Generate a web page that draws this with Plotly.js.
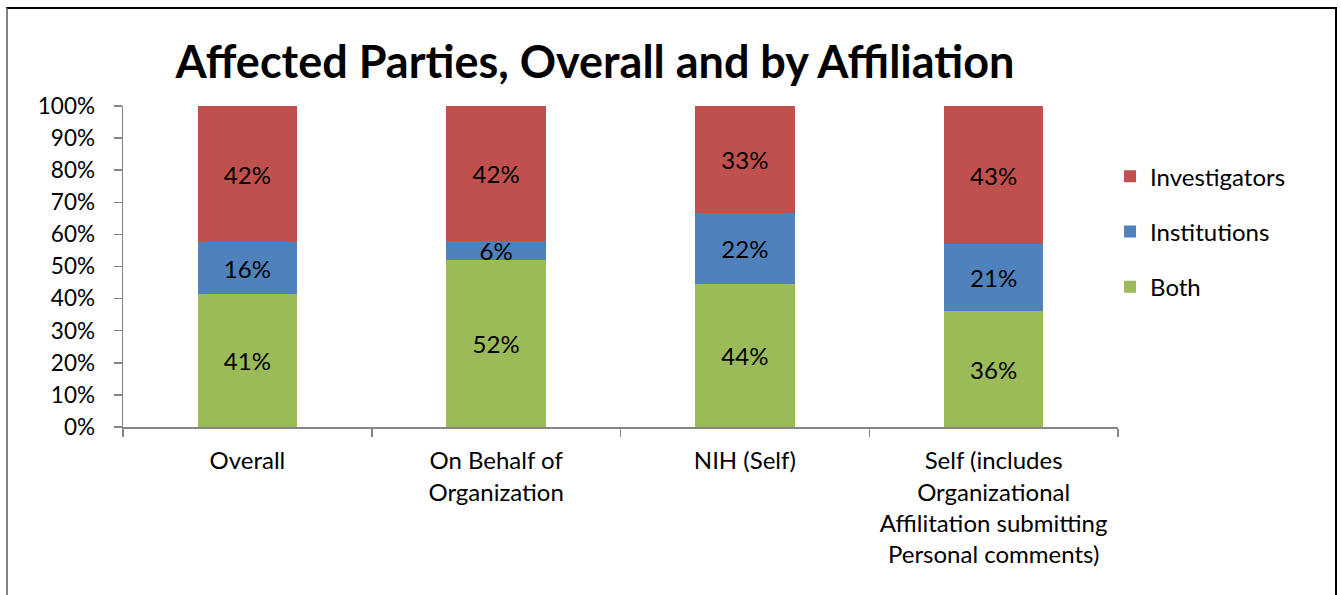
<!DOCTYPE html>
<html>
<head>
<meta charset="utf-8">
<script src="https://cdn.plot.ly/plotly-3.0.1.min.js"></script>
<style>
  html, body { margin: 0; padding: 0; background: #fff; }
  #wrap { position: relative; width: 1341px; height: 595px; }
  #chart { width: 1341px; height: 595px; }
  #frame { position: absolute; left: 6px; top: 7px; width: 1331px; height: 600px;
           border-left: 2px solid #808080; border-top: 2px solid #000; border-right: 2px solid #000;
           pointer-events: none; box-sizing: border-box; }
</style>
</head>
<body>
<div id="wrap">
  <div id="chart"></div>
  <div id="frame"></div>
</div>
<script>
const categories = [
  "Overall",
  "On Behalf of<br>Organization",
  "NIH (Self)",
  "Self (includes<br>Organizational<br>Affilitation submitting<br>Personal comments)"
];
const both = [41, 52, 44, 36];
const institutions = [16, 6, 22, 21];
const investigators = [42, 42, 33, 43];
const yTickVals = [0, 10, 20, 30, 40, 50, 60, 70, 80, 90, 100];

const FONT = "Lato, 'Open Sans', sans-serif";

function mk(name, vals, color, rank) {
  return {
    type: 'bar',
    name: name,
    x: categories,
    y: vals,
    text: vals.map(v => v + '%'),
    textposition: 'inside',
    insidetextanchor: 'middle',
    constraintext: 'none',
    textfont: { family: FONT, size: 24, color: '#000' },
    marker: { color: color, line: { width: 0 } },
    legendgroup: name,
    legendrank: rank,
    hoverinfo: 'skip'
  };
}

const data = [
  mk('Both', both, '#9BBB59', 3),
  mk('Institutions', institutions, '#4F81BD', 2),
  mk('Investigators', investigators, '#C0504D', 1)
];

const layout = {
  width: 1341,
  height: 595,
  margin: { l: 123, r: 223, t: 106, b: 168 },
  paper_bgcolor: '#fff',
  plot_bgcolor: '#fff',
  barmode: 'stack',
  barnorm: 'percent',
  bargap: 0.6,
  font: { family: FONT, size: 24, color: '#000' },
  title: {
    text: '<b>Affected Parties, Overall and by Affiliation</b>',
    font: { family: FONT, size: 45, color: '#000' },
    x: 595 / 1341,
    xanchor: 'center',
    xref: 'container',
    y: 1 - 62 / 595,
    yanchor: 'middle',
    yref: 'container'
  },
  xaxis: {
    type: 'category',
    showline: true,
    linecolor: '#868686',
    linewidth: 1.5,
    ticks: 'outside',
    tickson: 'boundaries',
    ticklen: 8,
    tickcolor: '#868686',
    tickwidth: 1.5,
    showgrid: false,
    ticklabelstandoff: 12,
    tickfont: { family: FONT, size: 24, color: '#000' },
    fixedrange: true
  },
  yaxis: {
    range: [0, 100],
    tickvals: yTickVals,
    ticktext: yTickVals.map(v => v + '%'),
    showline: true,
    linecolor: '#868686',
    linewidth: 1.5,
    ticks: 'outside',
    ticklen: 8,
    tickcolor: '#868686',
    tickwidth: 1.5,
    showgrid: false,
    zeroline: false,
    ticklabelstandoff: 14,
    tickfont: { family: FONT, size: 22.5, color: '#000' },
    fixedrange: true
  },
  legend: {
    traceorder: 'grouped',
    tracegroupgap: 21,
    x: 0.992,
    xanchor: 'left',
    y: 0.85,
    yanchor: 'top',
    font: { family: FONT, size: 24, color: '#000' },
    bgcolor: 'rgba(0,0,0,0)'
  },
  showlegend: true
};

Plotly.newPlot('chart', data, layout, { displayModeBar: false, staticPlot: true });
</script>
</body>
</html>
